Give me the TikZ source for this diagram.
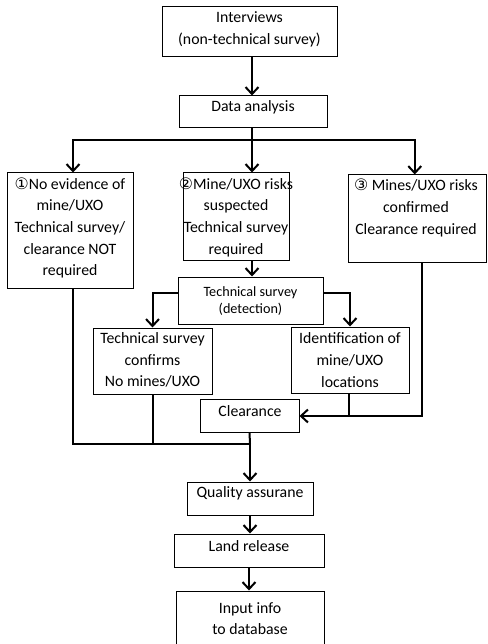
\documentclass[tikz,border=0pt]{standalone}
\usepackage{fontspec}
\setmainfont{Carlito}
\newfontfamily\circfont{DejaVu Sans}
\usetikzlibrary{arrows.meta,calc}
\tikzset{
  txt/.style={align=center, inner sep=0pt, font=\fontsize{15.8}{21.7}\selectfont},
  smalltxt/.style={align=center, inner sep=0pt, font=\fontsize{14.2}{17}\selectfont},
  conn/.style={line width=2pt},
  arr/.style={conn, -{Straight Barb[length=7pt,width=13pt,line width=2pt]}}
}
% rectangle node spanning (x1,y1)-(x2,y2) in pixel-like units
\newcommand{\boxat}[5]{%
  \node[draw, line width=1pt, inner sep=0pt, minimum width={(#4-#2)*1pt}, minimum height={(#5-#3)*1pt}]
    (#1) at ({(#2+#4)/2}, {(#3+#5)/2}) {};}
\begin{document}
\begin{tikzpicture}[x=1pt, y=-1pt]
\useasboundingbox (0,0) rectangle (487,644);

% boxes
\boxat{int}{162}{7}{337}{57}
\boxat{da}{179}{96}{327}{128}
\boxat{bone}{7}{173}{133}{288}
\boxat{btwo}{183}{173}{289}{260}
\boxat{bthree}{348}{175}{486.5}{262}
\boxat{ts}{178}{277}{323}{324}
\boxat{tc}{93}{328}{212}{394}
\boxat{id}{291}{327}{409}{393}
\boxat{cl}{200}{399}{299}{432}
\boxat{qa}{187}{482}{313}{515}
\boxat{lr}{174}{534}{324}{567}
\boxat{inp}{176}{591}{324}{660}

% texts
\node[txt] (tint) at (249.5,29) {Interviews\\(non-technical survey)};
\node[txt] (tda) at (253,107) {Data analysis};
\node[txt] (tone) at (70,228) {{\circfont ①}No evidence of\\mine/UXO\\Technical survey/\\clearance NOT\\required};
\node[txt] (ttwo) at (236,217) {{\circfont ②}Mine/UXO risks\\suspected\\Technical survey\\required};
\node[txt] (tthree) at (416,208) {{\circfont ③} Mines/UXO risks\\confirmed\\Clearance required};
\node[smalltxt] (tts) at (250.5,301.5) {Technical survey\\(detection)};
\node[txt] (ttc) at (152.5,360) {Technical survey\\confirms\\No mines/UXO};
\node[txt] (tid) at (350,360) {Identification of\\mine/UXO\\locations};
\node[txt] (tcl) at (250,411) {Clearance};
\node[txt] (tqa) at (250,493) {Quality assurane};
\node[txt] (tlr) at (249,546) {Land release};
\node[txt] (tinp) at (250,618.5) {Input info\\to database};

% junction points
\coordinate (split) at (252,140);
\coordinate (joinR) at (349,416);
\coordinate (merge) at (250,444);

% connectors
\draw[arr] (int.south -| split) -- (split |- da.north);
\draw[conn] (split |- da.south) -- (split);
\draw[arr] (split) -| ($(bone.north)+(3,0)$);
\draw[arr] (split) -- (split |- btwo.north);
\draw[arr] (split) -| ($(bthree.north)+(-2.5,0)$);
\draw[arr] (split |- btwo.south) -- (split |- ts.north);
\draw[arr] ($(ts.west)+(0,-7.5)$) -| (tc.north);
\draw[arr] ($(ts.east)+(0,-7.5)$) -| (id.north);
\draw[conn] (id.south -| joinR) -- (joinR);
\draw[conn] ($(bthree.south)+(4.5,0)$) |- (joinR);
\draw[arr] (joinR) -- (cl.east |- joinR);
\draw[conn] ($(bone.south)+(3,0)$) |- (merge);
\draw[conn] (tc.south) -- (tc.south |- merge);
\draw[conn] (cl.south) -- (merge);
\draw[arr] (merge) -- (qa.north);
\draw[arr] (qa.south) -- (qa.south |- lr.north);
\draw[arr] (lr.south) -- (lr.south |- inp.north);
\end{tikzpicture}
\end{document}
